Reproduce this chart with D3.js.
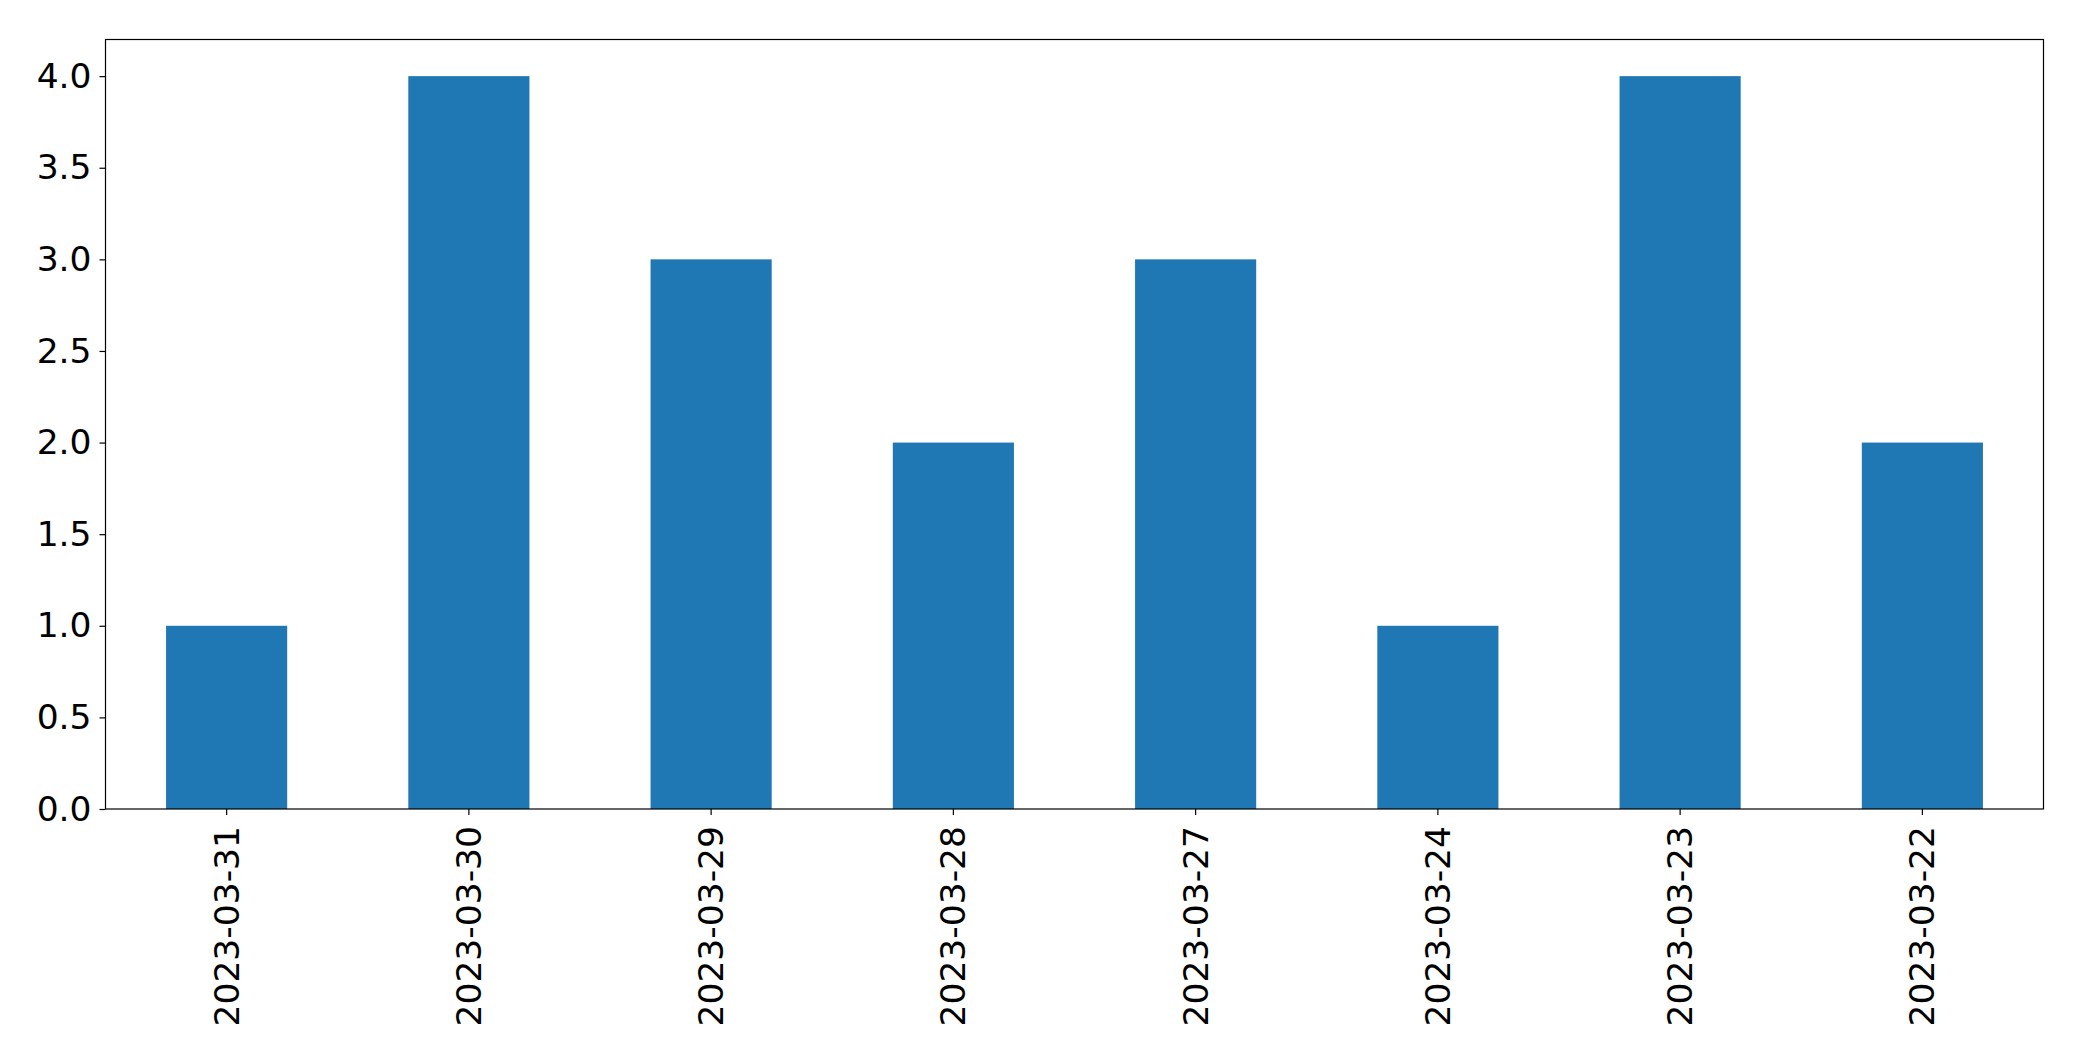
<!DOCTYPE html>
<html>
<head>
<meta charset="utf-8">
<script src="https://cdn.jsdelivr.net/npm/d3@7"></script>
<style>
  html, body { margin: 0; padding: 0; background: #fff; }
  svg { display: block; }
  text { font-family: "DejaVu Sans", sans-serif; fill: #000; }
</style>
</head>
<body>
<script>
const categories = ["2023-03-31", "2023-03-30", "2023-03-29", "2023-03-28", "2023-03-27", "2023-03-24", "2023-03-23", "2023-03-22"];
const values = [1, 4, 3, 2, 3, 1, 4, 2];
const yTicks = [0, 0.5, 1, 1.5, 2, 2.5, 3, 3.5, 4];

const W = 2082, H = 1061;
const margin = { left: 105.5, right: W - 2043.5, top: 39.5, bottom: H - 809 };
const iw = W - margin.left - margin.right;
const ih = H - margin.top - margin.bottom;
const fontSize = 34.5;

const svg = d3.select("body").append("svg").attr("width", W).attr("height", H);
const g = svg.append("g").attr("transform", `translate(${margin.left},${margin.top})`);

const x = d3.scaleBand().domain(categories).range([0, iw]).paddingInner(0.5).paddingOuter(0.25);
const y = d3.scaleLinear().domain([0, 4.2]).range([ih, 0]);

g.selectAll("rect.bar").data(categories).join("rect")
  .attr("class", "bar")
  .attr("x", d => x(d))
  .attr("width", x.bandwidth())
  .attr("y", (d, i) => y(values[i]))
  .attr("height", (d, i) => ih - y(values[i]))
  .attr("fill", "#1f77b4");

// Y axis
const yAxis = g.append("g").call(d3.axisLeft(y).tickValues(yTicks).tickFormat(d3.format(".1f")).tickSize(6).tickPadding(8));
yAxis.select(".domain").remove();
yAxis.selectAll("line").attr("stroke", "#000").attr("stroke-width", 1.2);
yAxis.selectAll("text").style("font-size", fontSize + "px").style("font-family", "DejaVu Sans").attr("fill", "#000");

// X axis
const xAxis = g.append("g").attr("transform", `translate(0,${ih})`)
  .call(d3.axisBottom(x).tickSize(6).tickPadding(0));
xAxis.select(".domain").remove();
xAxis.selectAll("line").attr("stroke", "#000").attr("stroke-width", 1.2);
xAxis.selectAll("text")
  .style("font-size", fontSize + "px").style("font-family", "DejaVu Sans").attr("fill", "#000")
  .attr("text-anchor", "end")
  .attr("transform", "translate(0,17) rotate(-90)")
  .attr("x", 0).attr("y", 0).attr("dy", "0.35em");

// Frame
g.append("rect").attr("x", 0).attr("y", 0).attr("width", iw).attr("height", ih)
  .attr("fill", "none").attr("stroke", "#000").attr("stroke-width", 1.2);
</script>
</body>
</html>
